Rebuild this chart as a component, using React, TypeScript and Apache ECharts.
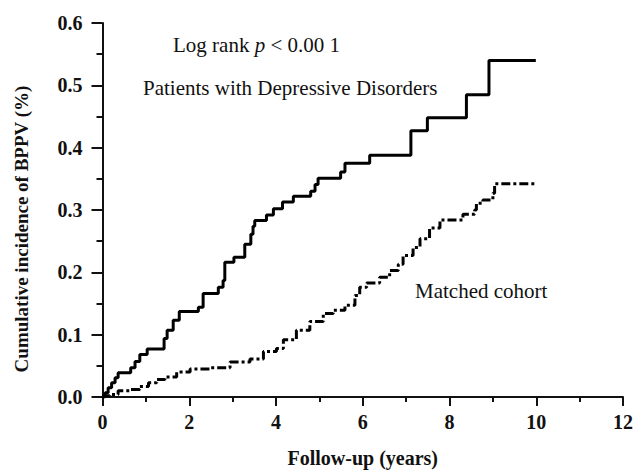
import React, { useEffect, useRef } from "react";
import * as echarts from "echarts";

// Step points [follow-up year, cumulative incidence] — value after each jump
const depressiveX = [0, 0.06, 0.13, 0.21, 0.29, 0.36, 0.65, 0.75, 0.86, 1.03, 1.42, 1.49, 1.63, 1.77, 2.21, 2.32, 2.67, 2.78, 2.82, 3.03, 3.28, 3.42, 3.47, 3.51, 3.78, 3.94, 4.15, 4.40, 4.80, 4.90, 4.97, 5.49, 5.59, 6.16, 7.11, 7.49, 8.39, 8.91, 9.99];
const depressiveY = [0, 0.007, 0.015, 0.023, 0.031, 0.039, 0.047, 0.057, 0.068, 0.077, 0.094, 0.107, 0.123, 0.137, 0.144, 0.166, 0.176, 0.187, 0.216, 0.224, 0.245, 0.261, 0.274, 0.283, 0.292, 0.302, 0.313, 0.322, 0.330, 0.341, 0.351, 0.361, 0.375, 0.388, 0.427, 0.448, 0.485, 0.540, 0.540];

const matchedX = [0, 0.02, 0.17, 0.36, 0.63, 0.86, 1.06, 1.25, 1.44, 1.71, 2.02, 2.48, 2.94, 3.40, 3.71, 4.01, 4.17, 4.47, 4.78, 5.09, 5.32, 5.59, 5.82, 5.93, 6.09, 6.39, 6.62, 6.82, 6.93, 7.16, 7.32, 7.54, 7.78, 8.31, 8.58, 8.62, 8.77, 9.00, 9.04, 10.0];
const matchedY = [0, 0.002, 0.004, 0.010, 0.012, 0.017, 0.023, 0.028, 0.032, 0.040, 0.045, 0.047, 0.056, 0.061, 0.073, 0.078, 0.092, 0.107, 0.121, 0.134, 0.139, 0.147, 0.163, 0.176, 0.183, 0.192, 0.203, 0.213, 0.227, 0.240, 0.254, 0.271, 0.284, 0.293, 0.300, 0.311, 0.316, 0.327, 0.342, 0.342];

const xTicks = [0, 2, 4, 6, 8, 10, 12];
const yTicks = ["0.0", "0.1", "0.2", "0.3", "0.4", "0.5", "0.6"];

const FONT = "'Liberation Serif', 'Times New Roman', serif";

export default function App() {
  const ref = useRef<HTMLDivElement>(null);
  useEffect(() => {
    if (!ref.current) return;
    const chart = echarts.init(ref.current, null, { renderer: "svg" });
    const dep = depressiveX.map((x, i) => [x, depressiveY[i]]);
    const mat = matchedX.map((x, i) => [x, matchedY[i]]);
    chart.setOption({
      animation: false,
      backgroundColor: "#ffffff",
      grid: { left: 102.5, right: 11.5, top: 23, bottom: 72, containLabel: false },
      xAxis: {
        type: "value",
        min: xTicks[0],
        max: xTicks[xTicks.length - 1],
        interval: 2,
        name: "Follow-up (years)",
        nameLocation: "middle",
        nameGap: 51,
        nameTextStyle: { fontFamily: FONT, fontWeight: "bold", fontSize: 20, color: "#111" },
        axisLine: { onZero: false, lineStyle: { color: "#111", width: 2 } },
        axisTick: { length: 9, lineStyle: { color: "#111", width: 2 } },
        minorTick: { show: true, splitNumber: 2, length: 5, lineStyle: { color: "#111", width: 2 } },
        splitLine: { show: false },
        axisLabel: { fontFamily: FONT, fontWeight: "bold", fontSize: 20, color: "#111", margin: 15 },
      },
      yAxis: {
        type: "value",
        min: 0,
        max: 0.6,
        interval: 0.1,
        axisLine: { show: true, onZero: false, lineStyle: { color: "#111", width: 2 } },
        axisTick: { show: true, length: 11, lineStyle: { color: "#111", width: 2 } },
        minorTick: { show: true, splitNumber: 2, length: 6, lineStyle: { color: "#111", width: 2 } },
        splitLine: { show: false },
        axisLabel: {
          fontFamily: FONT,
          fontWeight: "bold",
          fontSize: 20,
          color: "#111",
          margin: 20,
          formatter: (v: number) => yTicks[Math.round(v * 10)] ?? v.toFixed(1),
        },
      },
      series: [
        {
          type: "line",
          name: "Patients with Depressive Disorders",
          data: dep,
          step: "end",
          symbol: "none",
          lineStyle: { color: "#000", width: 3 },
        },
        {
          type: "line",
          name: "Matched cohort",
          data: mat,
          step: "end",
          symbol: "none",
          lineStyle: { color: "#000", width: 3, type: [9, 3, 3, 3] },
        },
      ],
      graphic: [
        {
          type: "text",
          x: 21,
          y: 229,
          rotation: Math.PI / 2,
          style: {
            text: "Cumulative incidence of BPPV (%)",
            fontFamily: FONT,
            fontWeight: "bold",
            fontSize: 19,
            fill: "#111",
            align: "center",
            verticalAlign: "middle",
          },
        },
        {
          type: "text",
          x: 173,
          y: 45,
          style: {
            text: "{a|Log rank }{p|p}{a| < 0.00 1}",
            verticalAlign: "middle",
            rich: {
              a: { fontFamily: FONT, fontSize: 21, fill: "#111" },
              p: { fontFamily: FONT, fontSize: 21, fontStyle: "italic", fill: "#111" },
            },
          },
        },
        {
          type: "text",
          x: 143,
          y: 88,
          style: { text: "Patients with Depressive Disorders", fontFamily: FONT, fontSize: 21, fill: "#111", verticalAlign: "middle" },
        },
        {
          type: "text",
          x: 415,
          y: 291,
          style: { text: "Matched cohort", fontFamily: FONT, fontSize: 21, fill: "#111", verticalAlign: "middle" },
        },
      ],
    });
    return () => chart.dispose();
  }, []);
  return (
    <div
      ref={ref}
      style={{ position: "fixed", left: 0, top: 0, width: 636, height: 473, background: "#fff" }}
    />
  );
}
